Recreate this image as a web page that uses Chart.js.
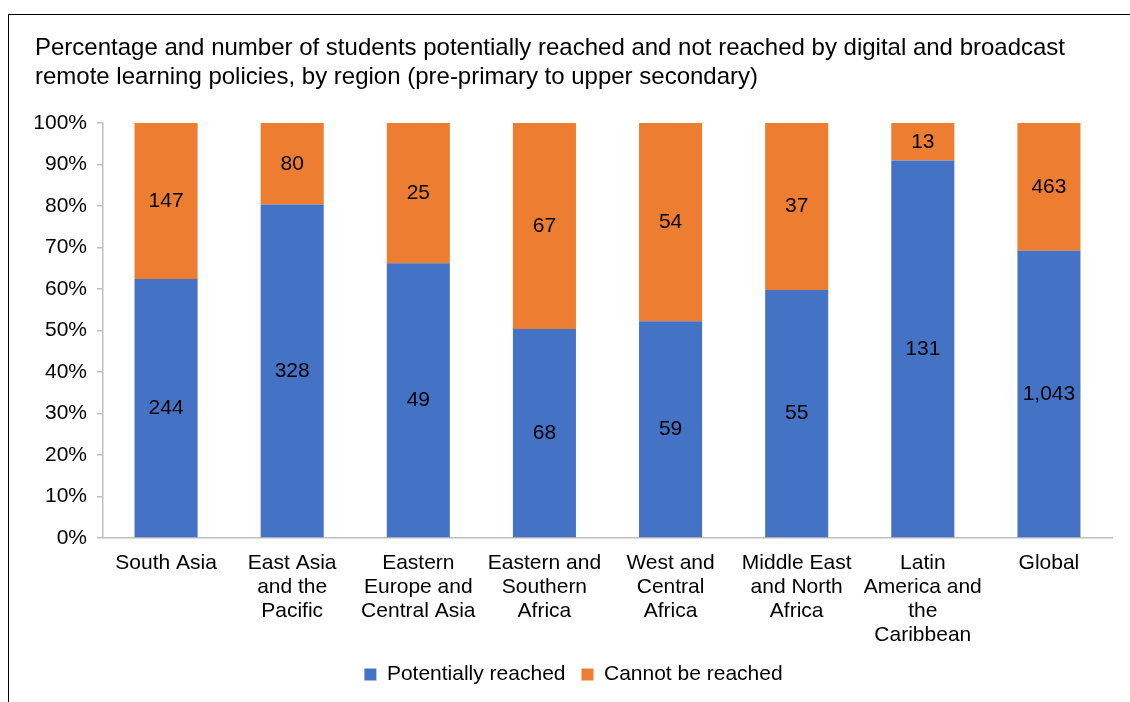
<!DOCTYPE html>
<html>
<head>
<meta charset="utf-8">
<script src="https://cdn.jsdelivr.net/npm/chart.js@4"></script>
<style>
  html, body { margin: 0; padding: 0; background: #fff; overflow: hidden; }
  #frame {
    position: absolute; left: 8px; top: 14px; width: 1200px; height: 800px;
    border-top: 1.5px solid #000; border-left: 1.5px solid #000;
  }
  #wrap { position: absolute; left: 0; top: 0; width: 1130px; height: 702px; }
</style>
</head>
<body>
<div id="frame"></div>
<div id="wrap"><canvas id="chart"></canvas></div>
<script>
// Students (millions)
const regions = [
    ['South Asia'],
    ['East Asia', 'and the', 'Pacific'],
    ['Eastern', 'Europe and', 'Central Asia'],
    ['Eastern and', 'Southern', 'Africa'],
    ['West and', 'Central', 'Africa'],
    ['Middle East', 'and North', 'Africa'],
    ['Latin', 'America and', 'the', 'Caribbean'],
    ['Global']
];
const reached = [244, 328, 49, 68, 59, 55, 131, 1043];
const notReached = [147, 80, 25, 67, 54, 37, 13, 463];
const yTicks = [0, 10, 20, 30, 40, 50, 60, 70, 80, 90, 100];

const BLUE = '#4472C4';
const ORANGE = '#ED7D31';
const AXIS = '#BFBFBF';
const FONT = '"Liberation Sans", Arial, sans-serif';

// share of each region's total, so every bar stacks to 100%
function toShare(part) {
    return part.map((v, i) => v / (reached[i] + notReached[i]) * 100);
}

// count labels in the middle of each segment
const segmentLabels = {
    id: 'segmentLabels',
    afterDatasetsDraw(chart) {
        const ctx = chart.ctx;
        ctx.save();
        ctx.font = '21px ' + FONT;
        ctx.fillStyle = '#000';
        ctx.textAlign = 'center';
        ctx.textBaseline = 'middle';
        chart.data.datasets.forEach((ds, i) => {
            chart.getDatasetMeta(i).data.forEach((bar, j) => {
                const mid = (bar.y + bar.base) / 2;
                ctx.fillText(ds.counts[j].toLocaleString('en-US'), bar.x, mid);
            });
        });
        ctx.restore();
    }
};

Chart.defaults.font.family = FONT;
Chart.defaults.color = '#000';

new Chart(document.getElementById('chart').getContext('2d'), {
    type: 'bar',
    data: {
        labels: regions,
        datasets: [{
            label: 'Potentially reached',
            data: toShare(reached),
            counts: reached,
            backgroundColor: BLUE
        }, {
            label: 'Cannot be reached',
            data: toShare(notReached),
            counts: notReached,
            backgroundColor: ORANGE
        }]
    },
    options: {
        responsive: true,
        maintainAspectRatio: false,
        animation: false,
        datasets: { bar: { categoryPercentage: 1, barPercentage: 0.5 } },
        layout: { padding: { left: 35, right: 18, top: 0, bottom: 7 } },
        plugins: {
            tooltip: { enabled: false },
            title: {
                display: true,
                align: 'start',
                text: [
                    'Percentage and number of students potentially reached and not reached by digital and broadcast',
                    'remote learning policies, by region (pre-primary to upper secondary)'
                ],
                color: '#000',
                font: { size: 24, weight: 'normal', lineHeight: 1.21 },
                padding: { top: 34, bottom: 31 }
            },
            legend: {
                position: 'bottom',
                labels: {
                    boxWidth: 12,
                    boxHeight: 12,
                    padding: 16,
                    color: '#000',
                    font: { size: 21 }
                }
            }
        },
        scales: {
            x: {
                stacked: true,
                afterFit: (scale) => { scale.height = 110; },
                grid: { display: false, drawTicks: false },
                border: { display: true, color: AXIS, width: 1.5 },
                ticks: {
                    color: '#000',
                    font: { size: 21, lineHeight: 1.15 },
                    padding: 13,
                    maxRotation: 0,
                    autoSkip: false
                }
            },
            y: {
                stacked: true,
                min: 0,
                max: 100,
                afterFit: (scale) => { scale.width = 68; },
                afterBuildTicks: (scale) => { scale.ticks = yTicks.map(v => ({ value: v })); },
                grid: { display: true, drawOnChartArea: false, tickLength: 6, color: AXIS, lineWidth: 1.5 },
                border: { display: true, color: AXIS, width: 1.5 },
                ticks: {
                    color: '#000',
                    font: { size: 21 },
                    padding: 10,
                    callback: (v) => v + '%'
                }
            }
        }
    },
    plugins: [segmentLabels]
});
</script>
</body>
</html>
